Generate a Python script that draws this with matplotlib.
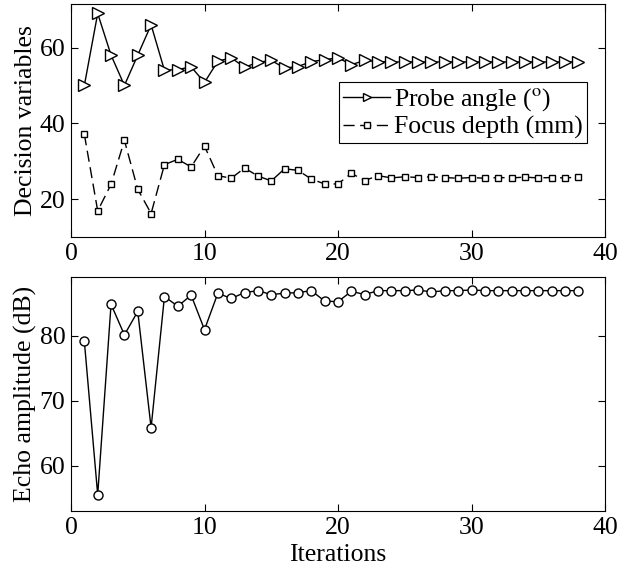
import numpy as np
import matplotlib
matplotlib.use("Agg")
import matplotlib.pyplot as plt

plt.rcParams["font.family"] = ["Liberation Serif", "DejaVu Serif"]
plt.rcParams["mathtext.fontset"] = "stix"

iterations = list(range(1, 39))
probe_angle = [50.0, 69.0, 58.0, 50.0, 58.0, 66.0, 54.0, 54.2, 54.9, 50.8,
               56.4, 57.3, 54.8, 56.1, 56.6, 54.6, 55.0, 56.3, 56.8, 57.3,
               55.5, 56.6, 56.3, 56.2, 56.2, 56.2, 56.2, 56.2, 56.2, 56.2,
               56.2, 56.2, 56.2, 56.2, 56.2, 56.2, 56.2, 56.2]
focus_depth = [37.1, 16.9, 23.9, 35.5, 22.6, 16.2, 29.1, 30.5, 28.5, 34.0,
               26.2, 25.5, 28.2, 26.1, 24.8, 28.0, 27.6, 25.3, 24.0, 24.0,
               26.8, 24.9, 26.2, 25.6, 25.9, 25.7, 25.9, 25.7, 25.5, 25.7,
               25.5, 25.7, 25.6, 25.8, 25.6, 25.7, 25.6, 25.8]
echo_amp = [79.1, 55.5, 84.8, 80.1, 83.7, 65.8, 86.0, 84.5, 86.2, 80.9,
            86.5, 85.7, 86.6, 86.9, 86.3, 86.5, 86.6, 86.9, 85.3, 85.2,
            86.8, 86.3, 86.9, 86.9, 86.9, 87.0, 86.7, 86.9, 86.9, 87.0,
            86.9, 86.9, 86.9, 86.9, 86.9, 86.9, 86.9, 86.9]

fs = 18.5
fig = plt.figure(figsize=(6.18, 5.74), dpi=100)
W, H = 618, 574
ax1 = fig.add_axes([71 / W, 1 - 237 / H, (605 - 71) / W, (237 - 4) / H])
ax2 = fig.add_axes([71 / W, 1 - 511 / H, (605 - 71) / W, (511 - 277) / H])

ax1.plot(iterations, probe_angle, "k-", marker=">", ms=8, mfc="white", mew=1.0, lw=1,
         label="Probe angle ($^{\\mathrm{o}}$)")
ax1.plot(iterations, focus_depth, "k", ls=(0, (8, 4)), marker="s", ms=5, mfc="white", mew=1.0,
         lw=1, label="Focus depth (mm)")
ax1.set_xlim(0, 40)
ax1.set_ylim(10, 71.5)
ax1.set_xticks([0, 10, 20, 30, 40])
ax1.set_yticks([20, 40, 60])
ax1.set_ylabel("Decision variables", fontsize=fs, labelpad=2)
leg = ax1.legend(loc="center right", bbox_to_anchor=(0.966, 0.534), fontsize=fs, frameon=True,
                 fancybox=False, edgecolor="black", handlelength=1.85, handletextpad=0.15,
                 borderpad=0.15, labelspacing=0.1, borderaxespad=0, framealpha=1,
                 markerscale=0.75)
leg.get_frame().set_linewidth(0.8)

ax2.plot(iterations, echo_amp, "k-", marker="o", ms=6.5, mfc="white", mew=1.0, lw=1)
ax2.set_xlim(0, 40)
ax2.set_ylim(53, 89)
ax2.set_xticks([0, 10, 20, 30, 40])
ax2.set_yticks([60, 70, 80])
ax2.set_ylabel("Echo amplitude (dB)", fontsize=fs, labelpad=2)
ax2.set_xlabel("Iterations", fontsize=fs, labelpad=4)

for ax in (ax1, ax2):
    ax.tick_params(direction="in", top=True, right=True, labelsize=fs, length=5, width=0.8, pad=4)
    for s in ax.spines.values():
        s.set_linewidth(0.8)

fig.savefig("out.png", dpi=100)
